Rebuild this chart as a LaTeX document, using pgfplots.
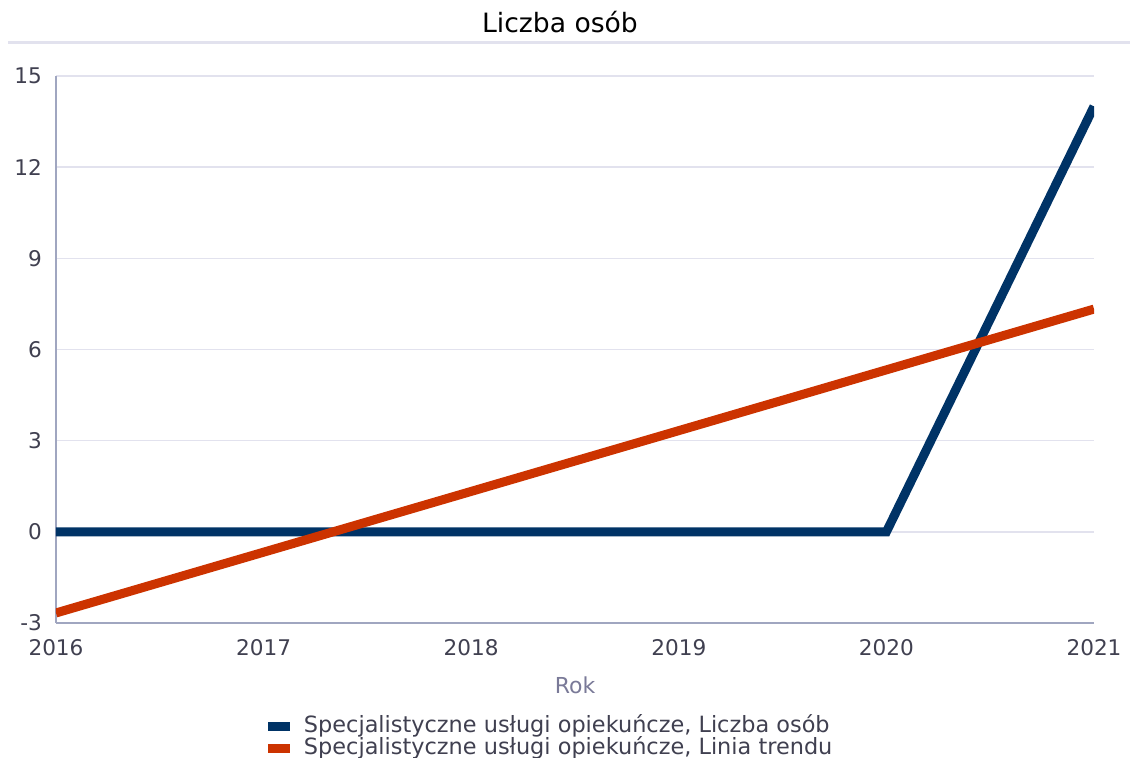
\documentclass[border=0pt]{standalone}
\usepackage{fontspec}
\setmainfont{DejaVu Sans}
\usepackage{pgfplots}
\pgfplotsset{compat=1.18}
\definecolor{serblue}{HTML}{003366}
\definecolor{serred}{HTML}{CC3300}
\definecolor{gridc}{HTML}{E2E2EE}
\definecolor{axc}{HTML}{A0A6C0}
\definecolor{txtc}{HTML}{404050}
\definecolor{labc}{HTML}{7A7A98}
\begin{document}
\begin{tikzpicture}
\useasboundingbox (-28pt,-67.5pt) rectangle (537pt,311.5pt);
\begin{axis}[
  at={(0pt,0pt)}, anchor=south west,
  scale only axis, width=519pt, height=273.5pt,
  xmin=2016, xmax=2021, ymin=-3, ymax=15,
  xtick={2016,2017,2018,2019,2020,2021},
  ytick={-3,0,3,6,9,12,15},
  /pgf/number format/assume math mode=true,
  x tick label style={/pgf/number format/1000 sep={}, yshift=-4.5pt},
  y tick label style={xshift=-3.5pt},
  ticklabel style={font=\fontsize{10.8}{12}\selectfont, text=txtc},
  axis x line=bottom, axis y line=left,
  axis line style={-, draw=axc, line width=0.8pt},
  ymajorgrids, grid style={gridc, line width=0.7pt},
  major tick length=0pt,
  xlabel={Rok},
  xlabel style={at={(axis description cs:0.5,0)}, anchor=center, yshift=-31pt,
    font=\fontsize{11}{12}\selectfont, text=labc},
  legend style={at={(0.478,-0.168)}, anchor=north, draw=none, fill=none,
    font=\fontsize{11.2}{12}\selectfont, text=txtc, row sep=0pt, column sep=5pt,
    inner sep=0pt, nodes={text height=8.6pt, text depth=2.5pt, inner ysep=0pt}},
  legend cell align=left,
  legend image code/.code={\path[draw=none, fill] (0pt,-2.2pt) rectangle (11pt,2.2pt);},
]
\addplot[serblue, line width=4.5pt] coordinates {
  (2016,0)(2017,0)(2018,0)(2019,0)(2020,0)(2021,14)
};
\addplot[serred, line width=4.5pt] coordinates {
  (2016,-2.67)(2017,-0.67)(2018,1.33)(2019,3.33)(2020,5.33)(2021,7.33)
};
\legend{{Specjalistyczne usługi opiekuńcze, Liczba osób},
  {Specjalistyczne usługi opiekuńcze, Linia trendu}}
\end{axis}
\draw[gridc, line width=1.5pt] (-24pt,290pt) -- (537pt,290pt);
\node[font=\fontsize{13.3}{15}\selectfont, text=black] at (252pt,300.5pt) {Liczba osób};
\end{tikzpicture}
\end{document}
